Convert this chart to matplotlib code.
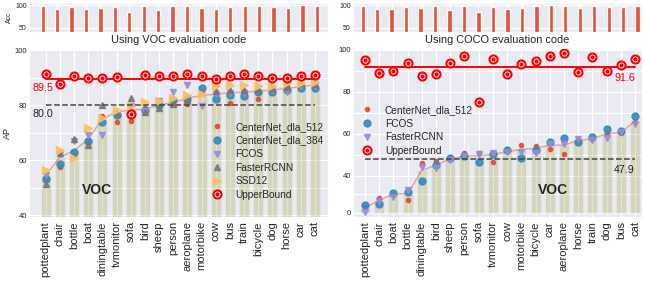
import numpy as np
import matplotlib
matplotlib.use("Agg")
import matplotlib.pyplot as plt
import seaborn as sns

sns.set_style("darkgrid")
plt.rcParams["font.family"] = ["Liberation Sans", "DejaVu Sans"]

# ---------------- data : VOC evaluation code (left) ----------------
voc_classes = ["pottedplant", "chair", "bottle", "boat", "diningtable", "tvmonitor", "sofa",
               "bird", "sheep", "person", "aeroplane", "motorbike", "cow", "bus", "train",
               "bicycle", "dog", "horse", "car", "cat"]
voc_acc = [98, 91, 96.5, 91, 94.5, 96.5, 85, 97.5, 90, 98.5,
           97.5, 94.5, 91, 96.5, 97.5, 97.5, 96.5, 93, 99.5, 97.5]
voc_dla512 = [54, 57.6, 62, 66.3, 76.2, 73.9, 74.2, 78.8, 80.5, 81,
              80.3, 84.5, 83.9, 80.8, 85, 82.2, 86, 87, 87.5, 87.5]
voc_dla384 = [53.3, 58.4, 62.8, 66.9, 73.7, 76.5, 76.3, 78.2, 80, 81.8,
              82.1, 86.1, 82.1, 83.6, 83.2, 84.9, 84.9, 85.5, 86.1, 86.3]
voc_fcos = [54.5, 62.1, 67, 69.1, 69.1, 77, 79.5, 78, 81.5, 84.6,
            87.3, 79.7, 84, 84.5, 84.5, 86.1, 85.5, 84.9, 87, 87]
voc_frcnn = [51.3, 62.5, 67.8, 65.5, 80, 77.3, 82.4, 77.6, 78.8, 80.3,
             81.8, 84.9, 85.1, 85.5, 85.5, 86, 86.3, 86.7, 88, 87.6]
voc_ssd = [56.4, 63.6, 60.6, 71.5, 75.3, 78.3, 79.7, 81.2, 81.5, 82.6,
           83.7, 83.9, 86.8, 87.3, 87.3, 86.8, 86.9, 87.9, 88, 88.5]
voc_mean = [54.5, 61, 63.5, 67.5, 75, 77.5, 78.2, 78.5, 80, 81,
            82.5, 83.5, 84, 84.5, 84.7, 85.1, 85.5, 86, 86.8, 87.3]
voc_upper = [91.2, 87.5, 90.5, 89.7, 89.7, 90.2, 76.6, 90.9, 90.6, 90.7,
             91.2, 90.5, 89.5, 90.6, 91.2, 90.6, 89.7, 89.7, 90.6, 90.9]
voc_mean_ap = 80.0
voc_upper_mean = 89.5

# ---------------- data : COCO evaluation code (right) ----------------
coco_classes = ["pottedplant", "chair", "boat", "bottle", "diningtable", "bird", "sheep",
                "person", "sofa", "tvmonitor", "cow", "motorbike", "bicycle", "car",
                "aeroplane", "horse", "train", "dog", "bus", "cat"]
coco_acc = [98.5, 91, 91, 96.5, 94.5, 97.5, 90, 98.5, 85, 96.5,
            91, 94.5, 97.5, 99.5, 97.5, 93.5, 97.5, 96.5, 96.5, 97.5]
coco_dla512 = [6, 16.4, 19.3, 14, 45.9, 47, 48.3, 50.7, 50.7, 46.7,
               52, 54.6, 54, 52.8, 50.3, 56.8, 57.5, 60.2, 60.2, 65.7]
coco_fcos = [8.6, 10, 21.8, 22.5, 34.6, 45.3, 48.6, 49.2, 46.4, 50.5,
             52, 48.5, 52.2, 56, 58, 56, 58.3, 62.1, 61.4, 68.6]
coco_frcnn = [1.5, 12.5, 17.5, 25, 44.2, 43.6, 47.6, 49.5, 50.2, 51,
              51.4, 51.2, 51, 55, 55, 57.3, 57, 57.8, 60.7, 64.6]
coco_mean = [5.5, 13.5, 20.5, 20.5, 42.5, 45, 48, 49.3, 49.5, 50,
             51.5, 52.5, 53, 54.5, 54.5, 56.8, 57.5, 60, 60.5, 66]
coco_upper = [95.1, 88.8, 90, 93.8, 87.5, 88.4, 93.5, 97.1, 75.2, 95.4,
              88.3, 93, 94.8, 97.1, 98.6, 89.2, 96.7, 90, 92.7, 95.4]
coco_mean_ap = 47.9
coco_upper_mean = 91.6

# marker style goes by position in the method list (as in a colour cycle)
RED, BLUE, PURPLE, GRAY, YELLOW = "#E24A33", "#348ABD", "#988ED5", "#777777", "#FBC15E"
cycle = [dict(marker="o", ms=3, color=RED),
         dict(marker="o", ms=5, color=BLUE),
         dict(marker="v", ms=5, color=PURPLE),
         dict(marker="^", ms=5, color=GRAY),
         dict(marker=">", ms=5.5, color=YELLOW)]

W, H = 645, 282
fig = plt.figure(figsize=(W / 100, H / 100), dpi=100)


def px_axes(x0, y0, x1, y1):
    return fig.add_axes([x0 / W, 1 - y1 / H, (x1 - x0) / W, (y1 - y0) / H])


def style_axes(ax):
    ax.tick_params(axis="both", length=0)
    ax.tick_params(axis="y", labelsize=5.5, pad=1.5)
    ax.grid(True, color="white", lw=0.8)


def draw_acc(ax, acc, xlim, ylabel):
    x = np.arange(len(acc))
    ax.bar(x, acc, width=0.3, color=RED, alpha=0.95)
    ax.set_xlim(*xlim)
    ax.set_ylim(41, 105)
    ax.set_yticks([50, 100])
    ax.set_xticks(x)
    ax.set_xticklabels([])
    style_axes(ax)
    ax.tick_params(axis="y", labelsize=5)
    if ylabel:
        ax.set_ylabel(ylabel, fontsize=5, labelpad=2)


def draw_main(ax, classes, methods, mean, upper, title):
    x = np.arange(len(classes))
    ax.bar(x, mean, width=0.7, color="olive", alpha=0.2, zorder=1)
    ax.plot(x, mean, color=RED, alpha=0.4, lw=1.2, zorder=2)
    handles = []
    for i, (name, vals) in enumerate(methods):
        st = cycle[i]
        h, = ax.plot(x, vals, ls="none", marker=st["marker"], ms=st["ms"],
                     color=st["color"], mec=st["color"], alpha=0.9, zorder=3, label=name)
        handles.append(h)
    ring, = ax.plot(x, upper, ls="none", marker="o", ms=5.8, mfc="white", mec="red",
                    mew=1.5, zorder=5)
    dot, = ax.plot(x, upper, ls="none", marker="o", ms=2.0, color="red", zorder=6)
    handles.append((ring, dot))
    ax.set_xticks(x)
    ax.set_xticklabels(classes, rotation=90, fontsize=8)
    ax.tick_params(axis="x", pad=3)
    style_axes(ax)
    ax.grid(True, which="minor", axis="y", color="white", lw=0.8)
    ax.set_title(title, fontsize=7.9, pad=4)
    return handles


# ---------------- left panel ----------------
ax_acc_l = px_axes(29, 3, 328, 32)
draw_acc(ax_acc_l, voc_acc, (-0.95, 19.77), "Acc")

ax_l = px_axes(29, 49, 328, 217)
voc_methods = [("CenterNet_dla_512", voc_dla512), ("CenterNet_dla_384", voc_dla384),
               ("FCOS", voc_fcos), ("FasterRCNN", voc_frcnn), ("SSD12", voc_ssd)]
hl = draw_main(ax_l, voc_classes, voc_methods, voc_mean, voc_upper, "Using VOC evaluation code")
n = len(voc_classes)
ax_l.plot([0, n - 1], [voc_upper_mean] * 2, color="red", lw=1.4, zorder=4)
ax_l.plot([0, n - 1], [voc_mean_ap] * 2, color="#444444", ls="--", lw=1.1, zorder=4)
ax_l.text(-0.9, voc_upper_mean - 3.3, f"{voc_upper_mean:.1f}", color="red", fontsize=7.7,
          ha="left", va="center")
ax_l.text(-0.9, voc_mean_ap - 3.3, f"{voc_mean_ap:.1f}", color="#222222", fontsize=7.7,
          ha="left", va="center")
ax_l.text(2.56, 49.1, "VOC", fontsize=10, fontweight="bold", ha="left", va="center")
ax_l.set_xlim(-1.18, 19.92)
ax_l.set_ylim(39.3, 100.4)
ax_l.set_yticks([40, 60, 80, 100])
ax_l.set_yticks([50, 70, 90], minor=True)
ax_l.set_ylabel("AP", fontsize=6.5, labelpad=2)
ax_l.legend(hl, [m[0] for m in voc_methods] + ["UpperBound"], loc="upper left",
            bbox_to_anchor=(207 / W, 1 - 122 / H), bbox_transform=fig.transFigure,
            frameon=False, fontsize=7.3, borderpad=0, borderaxespad=0,
            handlelength=2, handletextpad=0.8, labelspacing=0.35)

# ---------------- right panel ----------------
K = 0.444  # the range below 40 AP is drawn compressed


def fwd(y):
    y = np.asarray(y, dtype=float)
    return np.where(y < 40, 40 - (40 - y) * K, y)


def inv(f):
    f = np.asarray(f, dtype=float)
    return np.where(f < 40, 40 - (40 - f) / K, f)


ax_acc_r = px_axes(353, 3, 642, 32)
draw_acc(ax_acc_r, coco_acc, (-0.67, 19.3), None)

ax_r = px_axes(353, 49, 642, 217)
ax_r.set_yscale("function", functions=(fwd, inv))
coco_methods = [("CenterNet_dla_512", coco_dla512), ("FCOS", coco_fcos),
                ("FasterRCNN", coco_frcnn)]
hr = draw_main(ax_r, coco_classes, coco_methods, coco_mean, coco_upper,
               "Using COCO evaluation code")
n = len(coco_classes)
ax_r.plot([0, n - 1], [coco_upper_mean] * 2, color="red", lw=1.4, zorder=4)
ax_r.plot([0, n - 1], [coco_mean_ap] * 2, color="#444444", ls="--", lw=1.1, zorder=4)
ax_r.text(n - 1, coco_upper_mean - 5.2, f"{coco_upper_mean:.1f}", color="red", fontsize=7.7,
          ha="right", va="center")
ax_r.text(n - 1, coco_mean_ap - 5.2, f"{coco_mean_ap:.1f}", color="#222222", fontsize=7.7,
          ha="right", va="center")
ax_r.text(12.2, 24.7, "VOC", fontsize=10, fontweight="bold", ha="left", va="center")
ax_r.set_xlim(-0.84, 19.49)
ax_r.set_ylim(-4.3, 100.3)
ax_r.set_yticks([0, 40, 60, 80, 100])
ax_r.set_yticks([20, 50, 70, 90], minor=True)
ax_r.yaxis.set_major_formatter(matplotlib.ticker.FormatStrFormatter("%d"))
ax_r.yaxis.set_minor_formatter(matplotlib.ticker.NullFormatter())
ax_r.legend(hr, [m[0] for m in coco_methods] + ["UpperBound"], loc="upper left",
            bbox_to_anchor=(356.6 / W, 1 - 105 / H), bbox_transform=fig.transFigure,
            frameon=False, fontsize=7.3, borderpad=0, borderaxespad=0,
            handlelength=2, handletextpad=0.8, labelspacing=0.35)

fig.savefig("out.png", dpi=100)
